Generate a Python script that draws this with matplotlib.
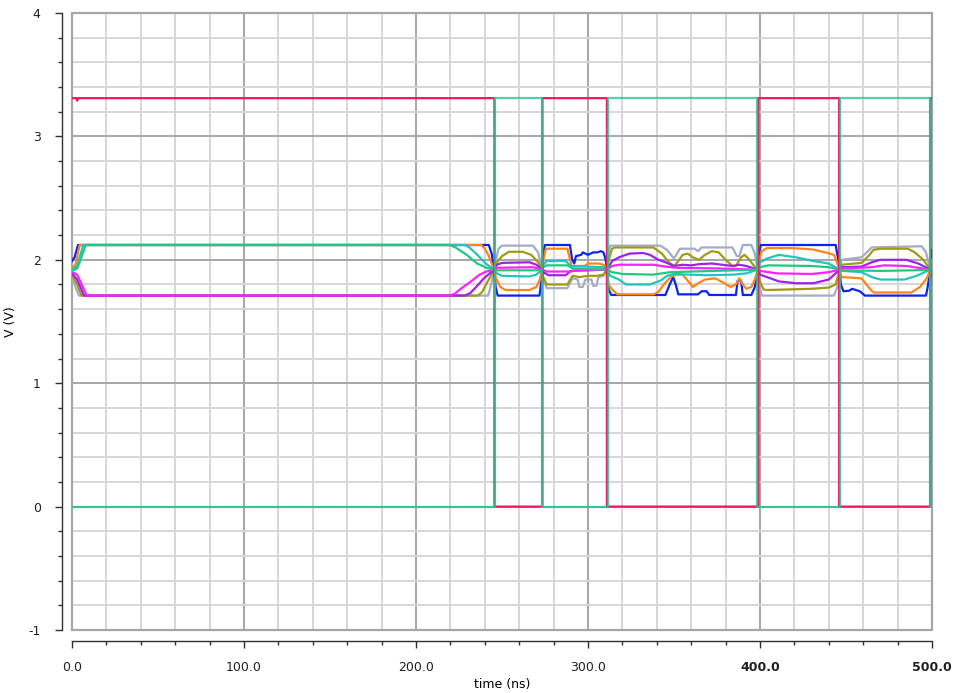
import numpy as np
import matplotlib
matplotlib.use("Agg")
from matplotlib import pyplot as plt
from matplotlib.patches import Rectangle

# clock pair (digital outputs)
t_clk = [0, 2.5, 3, 3.5, 245.6, 245.6, 273.5, 273.5, 311.0, 311.0, 399.0, 399.0,
         446.0, 446.0, 499.0, 499.0, 500]
v_clk = [3.31, 3.31, 3.29, 3.31, 3.31, 0, 0, 3.31, 3.31, 0, 0, 3.31,
         3.31, 0, 0, 3.31, 3.31]
t_clkb = [0, 246.2, 246.2, 273.1, 273.1, 311.4, 311.4, 398.5, 398.5, 446.4, 446.4,
          498.6, 498.6, 500]
v_clkb = [0, 0, 3.31, 3.31, 0, 0, 3.31, 3.31, 0, 0, 3.31, 3.31, 0, 0]

# analog nodes
t_blue = [0, 1.5, 3.5, 242.3, 244, 245.5, 246.3, 247.5, 271.8, 272.8, 273.3, 273.8, 275,
          289.5, 290.8, 292, 293, 296, 297, 300, 303, 305.5, 307.5, 309, 310.3, 311,
          312, 313.5, 345, 347.5, 349.5, 351, 352.5, 364, 366, 369, 370.5, 386, 387, 389,
          390, 395, 397, 398.7, 399.5, 400.5, 444, 445.5, 446.3, 447, 448.5, 452, 453.5,
          458, 461, 496.5, 497.5, 499, 500]
v_blue = [1.99, 2.02, 2.12, 2.12, 2.05, 1.92, 1.78, 1.71, 1.71, 1.82, 1.92, 2.05, 2.12,
          2.12, 2.0, 1.97, 2.03, 2.04, 2.06, 2.04, 2.06, 2.06, 2.07, 2.06, 2.0, 1.92,
          1.76, 1.715, 1.715, 1.80, 1.86, 1.80, 1.72, 1.72, 1.745, 1.745, 1.715, 1.715, 1.83, 1.83,
          1.715, 1.715, 1.78, 1.92, 2.06, 2.12, 2.12, 2.0, 1.92, 1.8, 1.745, 1.75, 1.765,
          1.745, 1.71, 1.71, 1.78, 1.92, 2.08]

t_orange = [0, 2, 4.5, 238, 240, 242, 244, 245.5, 246.5, 249, 252, 266, 270, 272, 273.3,
            274, 275.5, 288, 290.5, 298, 300, 306, 309, 311,
            312, 314, 317, 338, 341, 344, 348, 351, 355, 358, 361, 364, 368, 374, 378, 383,
            386, 388, 390, 392, 395, 397, 398.7,
            399.5, 401, 404, 418, 430, 438, 443, 446.3,
            447.5, 459, 463, 466, 488, 493, 497, 499, 500]
v_orange = [1.93, 1.96, 2.12, 2.12, 2.09, 2.04, 1.97, 1.92, 1.85, 1.78, 1.755, 1.755, 1.78,
            1.84, 1.92,
            2.0, 2.09, 2.09, 1.95, 1.95, 1.97, 1.97, 1.96, 1.92,
            1.8, 1.76, 1.72, 1.72, 1.74, 1.80, 1.86, 1.88, 1.88, 1.83, 1.78, 1.81, 1.84, 1.85,
            1.82, 1.78, 1.80, 1.85, 1.80, 1.765, 1.78, 1.84, 1.92,
            2.0, 2.07, 2.095, 2.095, 2.085, 2.06, 2.04, 1.92,
            1.86, 1.85, 1.78, 1.735, 1.735, 1.78, 1.85, 1.92, 2.0]

t_cyan = [0, 3, 6.5, 228.5, 231, 235, 240.5, 245.5, 247, 250, 266, 270, 273.3,
          274, 276, 287, 290, 309, 311,
          313, 318, 322, 336, 342, 346, 350, 358, 370, 385, 392, 398.7,
          400, 404, 411, 421, 431, 440, 446.3,
          448, 459, 465, 470, 484, 491, 499, 500]
v_cyan = [1.92, 1.95, 2.12, 2.12, 2.1, 2.05, 1.97, 1.92, 1.89, 1.87, 1.865, 1.88, 1.92,
          1.96, 1.99, 1.99, 1.95, 1.94, 1.92,
          1.87, 1.84, 1.80, 1.80, 1.83, 1.87, 1.885, 1.88, 1.875, 1.88, 1.89, 1.92,
          1.98, 2.01, 2.04, 2.02, 1.99, 1.97, 1.92,
          1.91, 1.9, 1.86, 1.84, 1.84, 1.87, 1.92, 1.95]

t_green = [0, 3, 5, 8, 219.5, 223, 229.5, 235.5, 241, 245.5, 247, 272, 273.3,
           274, 276, 288, 291, 311,
           314, 320, 338, 348, 398.7,
           400, 405, 430, 440, 446.3,
           448, 470, 490, 499, 500]
v_green = [1.91, 1.93, 2.0, 2.12, 2.12, 2.1, 2.04, 1.97, 1.935, 1.92, 1.915, 1.915, 1.92,
           1.94, 1.955, 1.955, 1.93, 1.92,
           1.9, 1.885, 1.88, 1.9, 1.92,
           1.94, 1.955, 1.95, 1.94, 1.92,
           1.915, 1.91, 1.915, 1.92, 1.92]

t_magenta = [0, 3, 6, 8.5, 219.5, 222.5, 225.5, 231.5, 237, 241, 245.5, 247, 268, 273.3,
             276, 290, 292, 311,
             314, 318, 338, 345, 352, 375, 398.7,
             400, 410, 430, 440, 446.3,
             448, 465, 472, 485, 499, 500]
v_magenta = [1.9, 1.88, 1.79, 1.71, 1.71, 1.725, 1.76, 1.82, 1.88, 1.905, 1.92, 1.935,
             1.94, 1.92,
             1.905, 1.905, 1.915, 1.92,
             1.95, 1.96, 1.96, 1.945, 1.935, 1.93, 1.92,
             1.91, 1.89, 1.885, 1.9, 1.92,
             1.93, 1.94, 1.955, 1.95, 1.92, 1.9]

t_purple = [0, 3, 7, 228.5, 231.5, 235, 239.5, 245.5, 247, 250, 266, 270, 273.3,
            274, 277, 287, 290, 311,
            314, 318, 324, 332, 336, 341, 345, 350, 355, 360, 365, 372, 378, 384, 388,
            392, 398.7,
            400, 404, 411, 421, 431, 440, 446.3,
            448, 459, 465, 470, 485, 492, 499, 500]
v_purple = [1.89, 1.84, 1.71, 1.71, 1.73, 1.78, 1.85, 1.92, 1.96, 1.975, 1.98, 1.96, 1.92,
            1.9, 1.875, 1.875, 1.91, 1.92,
            1.99, 2.02, 2.05, 2.055, 2.04, 2.0, 1.98, 1.95, 1.96, 1.955, 1.965, 1.97, 1.96,
            1.95, 1.96, 1.95, 1.92,
            1.88, 1.86, 1.825, 1.81, 1.81, 1.84, 1.92,
            1.94, 1.945, 1.98, 2.0, 2.0, 1.97, 1.92, 1.87]

t_olive = [0, 3, 5.5, 236, 238.5, 241.5, 243.5, 245.5, 246.5, 250, 254, 262, 267, 271, 273.3,
           274, 276, 288, 291, 295, 300, 305, 309, 311,
           312, 314, 315.5, 338, 343, 347, 350, 352, 355, 358, 361, 364.5, 368, 372, 376,
           380, 384, 386, 389, 391, 394, 396, 398.7,
           399.5, 402, 404, 430, 440, 444, 446.3,
           447.5, 459, 463, 466, 470, 486, 490, 495, 499, 500]
v_olive = [1.88, 1.80, 1.71, 1.71, 1.74, 1.82, 1.87, 1.92, 1.97, 2.03, 2.065, 2.065, 2.04,
           1.98, 1.92,
           1.86, 1.80, 1.80, 1.87, 1.86, 1.87, 1.87, 1.88, 1.92,
           2.0, 2.09, 2.1, 2.1, 2.05, 1.98, 1.95, 1.98, 2.04, 2.05, 2.02, 2.0, 2.04, 2.07,
           2.06, 2.0, 1.95, 1.95, 2.02, 2.04, 2.0, 1.96, 1.92,
           1.84, 1.76, 1.755, 1.765, 1.775, 1.80, 1.92,
           1.96, 1.975, 2.03, 2.08, 2.09, 2.09, 2.06, 2.0, 1.92, 1.8]

t_gray = [0, 2, 4, 242, 243.5, 245.5, 246.5, 248, 250, 268, 271, 273.3,
          274, 276, 288, 291, 294, 295, 297, 298.5, 302, 303, 305, 306, 309, 311,
          311.8, 313, 342, 346, 350, 353.5, 362, 364, 366, 384, 386.5, 388, 390, 395, 397,
          398.7,
          399.5, 401, 443, 445, 446.3,
          447.5, 459, 462, 465, 494, 496.5, 499, 500]
v_gray = [1.87, 1.78, 1.71, 1.71, 1.79, 1.92, 2.0, 2.09, 2.115, 2.115, 2.06, 1.92,
          1.84, 1.77, 1.77, 1.85, 1.84, 1.78, 1.78, 1.84, 1.84, 1.79, 1.79, 1.86, 1.87, 1.92,
          2.05, 2.115, 2.115, 2.08, 2.01, 2.09, 2.09, 2.07, 2.1, 2.1, 2.03, 2.03, 2.12, 2.12,
          2.05, 1.92,
          1.8, 1.71, 1.71, 1.78, 1.92,
          2.0, 2.02, 2.06, 2.1, 2.11, 2.06, 1.92, 1.76]

x_major = [0, 100, 200, 300, 400, 500]
x_labels = ["0.0", "100.0", "200.0", "300.0", "400.0", "500.0"]
y_major = [-1, 0, 1, 2, 3, 4]
y_labels = ["-1", "0", "1", "2", "3", "4"]

fig = plt.figure(figsize=(9.57, 6.93), dpi=100)
ax = fig.add_axes([72 / 957, 1 - 630 / 693, 860 / 957, 617 / 693])
ax.set_xlim(0, 500)
ax.set_ylim(-1, 4)

# grid: light minor, darker major
ax.set_xticks(x_major, labels=x_labels)
ax.set_yticks(y_major, labels=y_labels)
ax.set_xticks(np.arange(0, 501, 20), minor=True)
ax.set_yticks(np.arange(-1, 4.01, 0.2), minor=True)
ax.grid(which="minor", color="#d6d6d6", lw=1.4, zorder=0)
ax.grid(which="major", color="#a6a6a6", lw=1.4, zorder=0.5)
ax.set_axisbelow(True)
ax.add_patch(Rectangle((0, 0), 1, 1, transform=ax.transAxes, fill=False,
                       edgecolor="#a6a6a6", lw=1.6, clip_on=False, zorder=0.6))

# drawing order: last one ends up on top where traces coincide
analog = [
    (t_gray, v_gray, "#a3abc9"),
    (t_olive, v_olive, "#a09c10"),
    (t_blue, v_blue, "#0a24f0"),
    (t_orange, v_orange, "#ff8418"),
    (t_cyan, v_cyan, "#20c4c4"),
    (t_purple, v_purple, "#a020e8"),
    (t_magenta, v_magenta, "#ff20ff"),
    (t_green, v_green, "#20c880"),
]
for t, v, c in analog:
    ax.plot(t, v, color=c, lw=1.6, zorder=2)

ax.plot(t_clk, v_clk, color="#f0185c", lw=1.6, zorder=3)
ax.plot(t_clkb, v_clkb, color="#20c890", lw=1.6, alpha=0.8, zorder=3)

# axis spines pulled away from the plot area
for side in ["top", "right"]:
    ax.spines[side].set_visible(False)
ax.spines["left"].set_position(("outward", 7.5))
ax.spines["bottom"].set_position(("outward", 8))
for side in ["left", "bottom"]:
    ax.spines[side].set_color("#303030")
    ax.spines[side].set_linewidth(1.0)

ax.tick_params(which="major", direction="out", length=5, width=1, color="#303030",
               labelsize=9, labelcolor="#202020")
ax.tick_params(which="minor", direction="out", length=3, width=1, color="#303030")
ax.tick_params(axis="y", which="major", pad=10)
ax.tick_params(axis="x", which="major", pad=9)
for lbl in ax.get_xticklabels()[4:]:
    lbl.set_fontweight("bold")

ax.set_xlabel("time (ns)", fontsize=9, labelpad=3)
ax.set_ylabel("V (V)", fontsize=9, labelpad=8)

fig.savefig("out.png", dpi=100)
